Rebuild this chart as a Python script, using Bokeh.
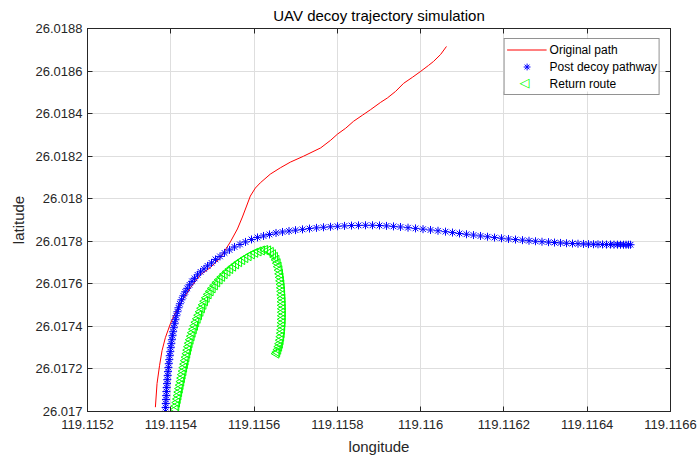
import math
from bokeh.plotting import figure
from bokeh.models import (Range1d, FixedTicker, CustomJSTickFormatter, LinearAxis,
                          Legend, LegendItem, ColumnDataSource, Label, BoxAnnotation)
from bokeh.embed import file_html
from bokeh.resources import INLINE

# ---------------- data ----------------
title_text = "UAV decoy trajectory simulation"
x_label = "longitude"
y_label = "latitude"
x_ticks = [119.1152, 119.1154, 119.1156, 119.1158, 119.1160, 119.1162, 119.1164, 119.1166]
y_ticks = [26.0170, 26.0172, 26.0174, 26.0176, 26.0178, 26.0180, 26.0182, 26.0184, 26.0186, 26.0188]

orig_lon = [119.115363, 119.115367, 119.115373, 119.115379, 119.115387, 119.115399, 119.115411,
            119.115423, 119.115447, 119.115471, 119.115495, 119.115519, 119.115543, 119.115560,
            119.115572, 119.115582, 119.115591, 119.115603, 119.115615, 119.115639, 119.115663,
            119.115687, 119.115719, 119.115760, 119.115784, 119.115800, 119.115820, 119.115839,
            119.115860, 119.115880, 119.115904, 119.115920, 119.115940, 119.115959, 119.115980,
            119.116000, 119.116019, 119.116031, 119.116048, 119.116062]
orig_lat = [26.0170202, 26.0171313, 26.0172156, 26.0172859, 26.0173469, 26.0174125, 26.0174641,
            26.0175063, 26.0175813, 26.0176422, 26.0176764, 26.0177219, 26.0177969, 26.0178578,
            26.0179141, 26.0179656, 26.0180125, 26.0180500, 26.0180748, 26.0181156, 26.0181452,
            26.0181719, 26.0182000, 26.0182389, 26.0182750, 26.0183031, 26.0183313, 26.0183641,
            26.0183922, 26.0184189, 26.0184531, 26.0184733, 26.0185047, 26.0185422, 26.0185703,
            26.0185984, 26.0186266, 26.0186453, 26.0186781, 26.0187156]

decoy_lon = [119.1153873, 119.1153876, 119.1153880, 119.1153885, 119.1153890, 119.1153895,
             119.1153902, 119.1153909, 119.1153916, 119.1153926, 119.1153933, 119.1153943,
             119.1153952, 119.1153964, 119.1153976, 119.1153988, 119.1154000, 119.1154012,
             119.1154027, 119.1154041, 119.1154056, 119.1154072, 119.1154092, 119.1154111,
             119.1154132, 119.1154159, 119.1154185, 119.1154219, 119.1154257, 119.1154301,
             119.1154346, 119.1154394, 119.1154449, 119.1154510, 119.1154570, 119.1154642,
             119.1154714, 119.1154798, 119.1154882, 119.1154978, 119.1155074, 119.1155182,
             119.1155290, 119.1155410, 119.1155530, 119.1155662, 119.1155794, 119.1155938,
             119.1156082, 119.1156227, 119.1156371, 119.1156527, 119.1156683, 119.1156839,
             119.1156995, 119.1157163, 119.1157331, 119.1157499, 119.1157667, 119.1157835,
             119.1158004, 119.1158172, 119.1158340, 119.1158508, 119.1158676, 119.1158844,
             119.1159012, 119.1159180, 119.1159348, 119.1159516, 119.1159697, 119.1159877,
             119.1160057, 119.1160237, 119.1160417, 119.1160597, 119.1160765, 119.1160933,
             119.1161101, 119.1161269, 119.1161438, 119.1161606, 119.1161774, 119.1161942,
             119.1162110, 119.1162278, 119.1162446, 119.1162602, 119.1162758, 119.1162914,
             119.1163071, 119.1163215, 119.1163359, 119.1163503, 119.1163647, 119.1163779,
             119.1163911, 119.1164031, 119.1164151, 119.1164259, 119.1164367, 119.1164463,
             119.1164559, 119.1164643, 119.1164727, 119.1164800, 119.1164872, 119.1164932,
             119.1164992, 119.1165040]
decoy_lat = [26.0170000, 26.0170188, 26.0170375, 26.0170563, 26.0170750, 26.0170938,
             26.0171125, 26.0171313, 26.0171500, 26.0171688, 26.0171875, 26.0172063,
             26.0172250, 26.0172438, 26.0172625, 26.0172813, 26.0173000, 26.0173188,
             26.0173375, 26.0173563, 26.0173750, 26.0173938, 26.0174125, 26.0174313,
             26.0174500, 26.0174688, 26.0174875, 26.0175063, 26.0175250, 26.0175438,
             26.0175625, 26.0175789, 26.0175953, 26.0176117, 26.0176258, 26.0176422,
             26.0176563, 26.0176703, 26.0176844, 26.0176984, 26.0177148, 26.0177289,
             26.0177453, 26.0177594, 26.0177734, 26.0177852, 26.0177969, 26.0178086,
             26.0178180, 26.0178250, 26.0178320, 26.0178391, 26.0178438, 26.0178484,
             26.0178522, 26.0178559, 26.0178597, 26.0178630, 26.0178658, 26.0178681,
             26.0178705, 26.0178723, 26.0178738, 26.0178747, 26.0178752, 26.0178752,
             26.0178742, 26.0178723, 26.0178700, 26.0178672, 26.0178639, 26.0178606,
             26.0178569, 26.0178531, 26.0178494, 26.0178452, 26.0178409, 26.0178367,
             26.0178330, 26.0178292, 26.0178250, 26.0178213, 26.0178175, 26.0178142,
             26.0178109, 26.0178081, 26.0178053, 26.0178025, 26.0178002, 26.0177978,
             26.0177959, 26.0177941, 26.0177922, 26.0177908, 26.0177894, 26.0177884,
             26.0177875, 26.0177866, 26.0177861, 26.0177856, 26.0177852, 26.0177847,
             26.0177847, 26.0177842, 26.0177842, 26.0177838, 26.0177838, 26.0177838,
             26.0177838, 26.0177838]

return_lon = [119.1154113, 119.1154130, 119.1154147, 119.1154164, 119.1154181, 119.1154197,
              119.1154214, 119.1154231, 119.1154248, 119.1154265, 119.1154281, 119.1154301,
              119.1154317, 119.1154337, 119.1154353, 119.1154373, 119.1154392, 119.1154411,
              119.1154430, 119.1154449, 119.1154473, 119.1154498, 119.1154522, 119.1154550,
              119.1154579, 119.1154608, 119.1154642, 119.1154675, 119.1154709, 119.1154745,
              119.1154781, 119.1154819, 119.1154858, 119.1154906, 119.1154954, 119.1155002,
              119.1155057, 119.1155112, 119.1155170, 119.1155230, 119.1155290, 119.1155357,
              119.1155424, 119.1155494, 119.1155566, 119.1155638, 119.1155713, 119.1155787,
              119.1155866, 119.1155946, 119.1156025, 119.1156106, 119.1156186, 119.1156263,
              119.1156335, 119.1156399, 119.1156452, 119.1156498, 119.1156534, 119.1156563,
              119.1156587, 119.1156606, 119.1156620, 119.1156632, 119.1156642, 119.1156652,
              119.1156659, 119.1156666, 119.1156671, 119.1156676, 119.1156678, 119.1156680,
              119.1156683, 119.1156683, 119.1156683, 119.1156680, 119.1156678, 119.1156673,
              119.1156666, 119.1156659, 119.1156647, 119.1156635, 119.1156618, 119.1156599,
              119.1156577, 119.1156553, 119.1156534]
return_lat = [26.0170094, 26.0170258, 26.0170422, 26.0170586, 26.0170750, 26.0170914,
              26.0171078, 26.0171242, 26.0171406, 26.0171570, 26.0171734, 26.0171898,
              26.0172063, 26.0172227, 26.0172391, 26.0172555, 26.0172719, 26.0172883,
              26.0173047, 26.0173211, 26.0173375, 26.0173539, 26.0173703, 26.0173867,
              26.0174031, 26.0174195, 26.0174359, 26.0174523, 26.0174688, 26.0174852,
              26.0175016, 26.0175180, 26.0175344, 26.0175508, 26.0175648, 26.0175789,
              26.0175930, 26.0176070, 26.0176202, 26.0176328, 26.0176455, 26.0176577,
              26.0176694, 26.0176806, 26.0176914, 26.0177017, 26.0177116, 26.0177209,
              26.0177298, 26.0177383, 26.0177458, 26.0177523, 26.0177570, 26.0177594,
              26.0177570, 26.0177500, 26.0177392, 26.0177266, 26.0177125, 26.0176970,
              26.0176806, 26.0176642, 26.0176469, 26.0176305, 26.0176141, 26.0175977,
              26.0175813, 26.0175648, 26.0175484, 26.0175320, 26.0175156, 26.0174992,
              26.0174828, 26.0174664, 26.0174500, 26.0174336, 26.0174172, 26.0174008,
              26.0173844, 26.0173680, 26.0173516, 26.0173352, 26.0173188, 26.0173047,
              26.0172906, 26.0172789, 26.0172719]

legend_labels = ["Original path", "Post decoy pathway", "Return route"]

# ---------------- figure ----------------
FONT = "Liberation Sans"
AX = "#262626"

p = figure(width=699, height=457, output_backend="svg", toolbar_location=None,
           x_range=Range1d(x_ticks[0], x_ticks[-1]), y_range=Range1d(y_ticks[0], y_ticks[-1]),
           min_border_left=87, min_border_right=29, min_border_top=27, min_border_bottom=46,
           background_fill_color="white", border_fill_color="white")

p.title.text = title_text
p.title.text_font = FONT
p.title.text_font_size = "15px"
p.title.text_font_style = "normal"
p.title.text_color = "#000000"
p.title.align = "center"
p.title.standoff = 9

fmt = CustomJSTickFormatter(code="return tick.toFixed(4).replace(/0+$/, '').replace(/\\.$/, '');")

for ax, ticks, lab in ((p.xaxis[0], x_ticks, x_label), (p.yaxis[0], y_ticks, y_label)):
    ax.ticker = FixedTicker(ticks=ticks)
    ax.formatter = fmt
    ax.axis_label = lab
    ax.axis_label_text_font = FONT
    ax.axis_label_text_font_size = "15px"
    ax.axis_label_text_font_style = "normal"
    ax.axis_label_text_color = AX
    ax.major_label_text_font = FONT
    ax.major_label_text_font_size = "13px"
    ax.major_label_text_color = AX
    ax.axis_line_color = AX
    ax.major_tick_line_color = AX
    ax.major_tick_in = 5
    ax.major_tick_out = 0
    ax.minor_tick_line_color = None
p.xaxis[0].major_label_standoff = 8
p.xaxis[0].axis_label_standoff = 6
p.yaxis[0].major_label_standoff = 5
p.yaxis[0].axis_label_standoff = 6

# inward ticks on the top and right edges of the box (no labels)
blank = CustomJSTickFormatter(code="return '';")
for loc, ticks in (("above", x_ticks), ("right", y_ticks)):
    extra = LinearAxis(ticker=FixedTicker(ticks=ticks), formatter=blank,
                       major_label_standoff=0, major_tick_in=5, major_tick_out=0,
                       minor_tick_line_color=None, axis_line_color=AX,
                       major_tick_line_color=AX)
    p.add_layout(extra, loc)

p.xgrid.ticker = FixedTicker(ticks=x_ticks)
p.ygrid.ticker = FixedTicker(ticks=y_ticks)
p.grid.grid_line_color = "#dedede"
p.grid.grid_line_width = 1
p.outline_line_color = AX
p.outline_line_width = 1

ret_src = ColumnDataSource(dict(x=return_lon, y=return_lat,
                                a=[math.pi / 2] * len(return_lon)))

r_orig = p.line(orig_lon, orig_lat, line_color="#ff0000", line_width=1)
r_decoy = p.scatter(decoy_lon, decoy_lat, marker="asterisk", size=8,
                    line_color="#0000ff", line_width=1)
r_ret = p.scatter(x="x", y="y", angle="a", source=ret_src, marker="triangle", size=9,
                  line_color="#00ff00", fill_color=None, line_width=1)
# legend stand-in for the return route (Bokeh legends never rotate markers);
# it is fully transparent, the left-pointing symbol is drawn by a label
r_ret_key = p.scatter(x=[], y=[], marker="triangle", size=9, line_alpha=0, fill_alpha=0)

# white backing for the (transparent) legend box, so grid lines do not show through
backing = BoxAnnotation(left=416, right=572, bottom=320, top=373,
                        left_units="screen", right_units="screen",
                        bottom_units="screen", top_units="screen",
                        fill_color="white", fill_alpha=1.0, line_color=None,
                        level="annotation")
p.add_layout(backing)

key = Label(x=437, y=329.5, x_units="screen", y_units="screen", text="\u25C1",
            text_color="#00ff00", text_font="DejaVu Sans", text_font_size="13px",
            text_align="center", text_baseline="middle", level="overlay")
p.add_layout(key)

legend = Legend(items=[LegendItem(label=legend_labels[0], renderers=[r_orig]),
                       LegendItem(label=legend_labels[1], renderers=[r_decoy]),
                       LegendItem(label=legend_labels[2], renderers=[r_ret_key])],
                location="top_right", margin=10, padding=2, spacing=0,
                glyph_width=40, glyph_height=17, label_height=17, label_standoff=3,
                label_text_font=FONT, label_text_font_size="12px", label_text_color="#000000",
                border_line_color=AX, border_line_width=1, background_fill_color="white",
                background_fill_alpha=0.0)
p.add_layout(legend)

open("out.html", "w").write(file_html(p, INLINE))
